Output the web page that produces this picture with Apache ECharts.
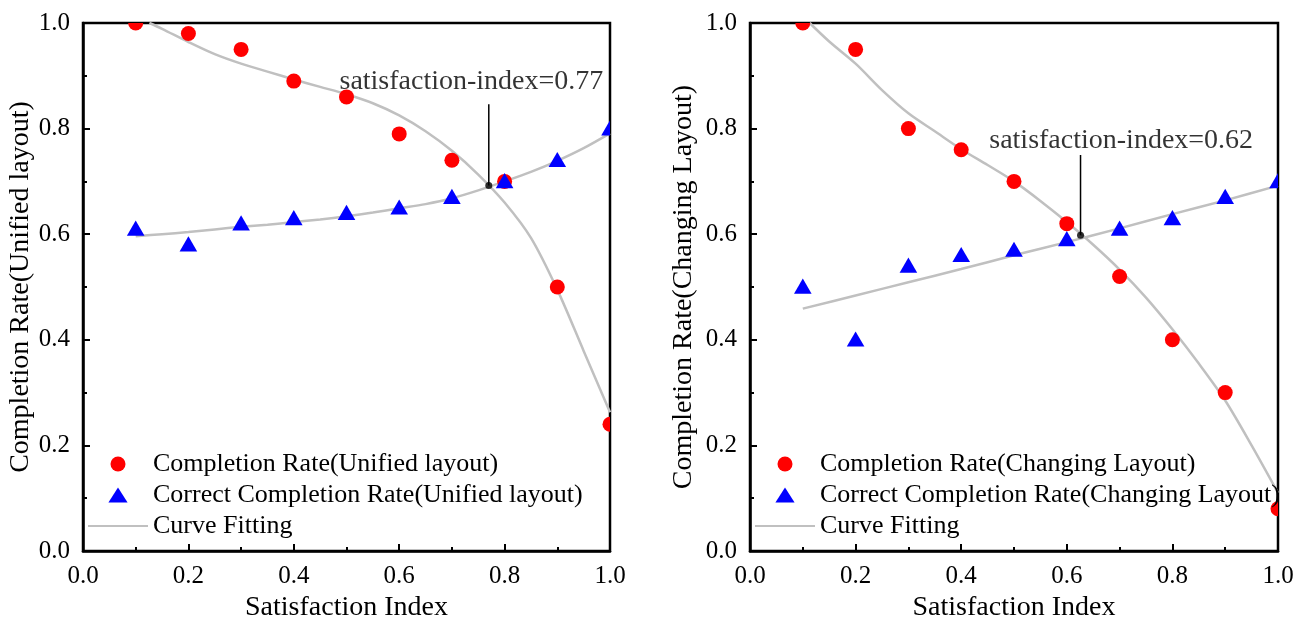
<!DOCTYPE html>
<html>
<head>
<meta charset="utf-8">
<script src="https://cdn.jsdelivr.net/npm/echarts@6/dist/echarts.min.js"></script>
<style>
html,body{margin:0;padding:0;background:#fff;}
#c{width:1307px;height:621px;}
</style>
</head>
<body>
<div id="c"></div>
<script>
// ---------- data ----------
const xValues = [0.1, 0.2, 0.3, 0.4, 0.5, 0.6, 0.7, 0.8, 0.9, 1.0];
// Left panel: unified layout
const unifiedRate = [1.0, 0.98, 0.95, 0.89, 0.86, 0.79, 0.74, 0.70, 0.50, 0.24];
const unifiedCorrect = [0.61, 0.58, 0.62, 0.63, 0.64, 0.65, 0.67, 0.70, 0.74, 0.80];
const unifiedRateFitX = [0.126, 0.15, 0.2, 0.25, 0.3, 0.35, 0.4, 0.45, 0.5, 0.55, 0.6, 0.65, 0.7, 0.75, 0.8, 0.85, 0.9, 0.95, 1.0];
const unifiedRateFitY = [1.0, 0.989, 0.964, 0.941, 0.923, 0.908, 0.893, 0.879, 0.865, 0.848, 0.825, 0.795, 0.758, 0.713, 0.66, 0.593, 0.495, 0.379, 0.263];
const unifiedCorrectFitX = [0.1, 0.15, 0.2, 0.25, 0.3, 0.35, 0.4, 0.45, 0.5, 0.55, 0.6, 0.65, 0.7, 0.75, 0.8, 0.85, 0.9, 0.95, 1.0];
const unifiedCorrectFitY = [0.596, 0.600, 0.604, 0.609, 0.614, 0.618, 0.623, 0.628, 0.634, 0.641, 0.649, 0.657, 0.668, 0.683, 0.70, 0.718, 0.739, 0.763, 0.791];
const unifiedCross = [0.77, 0.692];
const unifiedPointerTop = 0.846;
const unifiedLabelPos = [0.737, 0.888];
const unifiedLabel = 'satisfaction-index=0.77';
// Right panel: changing layout
const changingRate = [1.0, 0.95, 0.80, 0.76, 0.70, 0.62, 0.52, 0.40, 0.30, 0.08];
const changingCorrect = [0.50, 0.40, 0.54, 0.56, 0.57, 0.59, 0.61, 0.63, 0.67, 0.70];
const changingRateFitX = [0.113, 0.15, 0.2, 0.25, 0.3, 0.35, 0.4, 0.45, 0.5, 0.55, 0.6, 0.65, 0.7, 0.75, 0.8, 0.85, 0.9, 0.95, 1.0];
const changingRateFitY = [1.0, 0.965, 0.923, 0.873, 0.829, 0.795, 0.761, 0.731, 0.70, 0.663, 0.623, 0.58, 0.533, 0.48, 0.42, 0.355, 0.285, 0.20, 0.11];
const changingCorrectFitX = [0.1, 0.2, 0.3, 0.4, 0.5, 0.6, 0.7, 0.8, 0.9, 1.0];
const changingCorrectFitY = [0.459, 0.484, 0.509, 0.534, 0.56, 0.585, 0.611, 0.638, 0.664, 0.692];
const changingCross = [0.626, 0.598];
const changingPointerTop = 0.75;
const changingLabelPos = [0.703, 0.777];
const changingLabel = 'satisfaction-index=0.62';

const xAxisName = 'Satisfaction Index';
const yNames = ['Completion Rate(Unified layout)', 'Completion Rate(Changing Layout)'];
const names = {
  uRate: 'Completion Rate(Unified layout)',
  uCorr: 'Correct Completion Rate(Unified layout)',
  cRate: 'Completion Rate(Changing Layout)',
  cCorr: 'Correct Completion Rate(Changing Layout)',
  fit: 'Curve Fitting'
};

// ---------- helpers ----------
const zip = (xs, ys) => xs.map((x, i) => [x, ys[i]]);
const FONT = '"Liberation Serif", "Times New Roman", serif';
const fmt = v => v.toFixed(1);
const TRI_ICON = 'path://M0,-10L11.5,8L-11.5,8Z';

function xAxis(idx) {
  return {
    gridIndex: idx, type: 'value', min: 0, max: 1, interval: 0.2,
    name: xAxisName, nameLocation: 'middle', nameGap: 41,
    nameTextStyle: { fontFamily: FONT, fontSize: 28, color: '#000' },
    axisLine: { show: true, onZero: false, lineStyle: { color: '#000', width: 2.5 } },
    axisTick: { show: true, inside: true, length: 7, lineStyle: { color: '#000', width: 2 } },
    minorTick: { show: true, splitNumber: 2, length: 4, lineStyle: { color: '#000', width: 2 } },
    axisLabel: { fontFamily: FONT, fontSize: 25, color: '#000', margin: 13, formatter: fmt },
    splitLine: { show: false }
  };
}
function yAxis(idx, gap) {
  return {
    gridIndex: idx, type: 'value', min: 0, max: 1, interval: 0.2,
    name: yNames[idx], nameLocation: 'middle', nameGap: gap,
    nameTextStyle: { fontFamily: FONT, fontSize: 28, color: '#000' },
    axisLine: { show: true, onZero: false, lineStyle: { color: '#000', width: 2.5 } },
    axisTick: { show: true, inside: true, length: 7, lineStyle: { color: '#000', width: 2 } },
    minorTick: { show: true, splitNumber: 2, length: 4, lineStyle: { color: '#000', width: 2 } },
    axisLabel: { fontFamily: FONT, fontSize: 25, color: '#000', margin: 13, formatter: fmt },
    splitLine: { show: false }
  };
}
// markers drawn as a custom series so that they are clipped at the plot frame
function markers(name, idx, ys, shape, size, color) {
  return {
    name, type: 'custom', xAxisIndex: idx, yAxisIndex: idx,
    data: zip(xValues, ys), clip: true, z: 3,
    itemStyle: { color },
    encode: { x: 0, y: 1 },
    renderItem: function (params, api) {
      const p = api.coord([api.value(0), api.value(1)]);
      const r = size / 2;
      if (shape === 'circle') {
        return { type: 'circle', shape: { cx: p[0], cy: p[1], r }, style: { fill: color } };
      }
      return {
        type: 'polygon',
        shape: { points: [[p[0], p[1] - r * 1.05], [p[0] + r * 1.1, p[1] + r * 0.85], [p[0] - r * 1.1, p[1] + r * 0.85]] },
        style: { fill: color }
      };
    }
  };
}
function fit(idx, xs, ys) {
  return {
    name: names.fit, type: 'line', xAxisIndex: idx, yAxisIndex: idx,
    data: zip(xs, ys), smooth: 0.3, symbol: 'none', clip: true,
    lineStyle: { color: '#c0c0c0', width: 2.5 }, itemStyle: { color: '#c0c0c0' }, z: 2
  };
}
function annot(idx, cross, top, labelPos, text) {
  return [
    {
      name: 'pointer' + idx, type: 'line', xAxisIndex: idx, yAxisIndex: idx,
      data: [cross, [cross[0], top]], symbol: 'none',
      lineStyle: { color: '#000', width: 1.5 }, z: 4
    },
    {
      name: 'cross' + idx, type: 'scatter', xAxisIndex: idx, yAxisIndex: idx,
      data: [cross], symbol: 'circle', symbolSize: 7, itemStyle: { color: '#000' }, z: 5
    },
    {
      name: 'label' + idx, type: 'scatter', xAxisIndex: idx, yAxisIndex: idx,
      data: [labelPos], symbolSize: 0, silent: true,
      label: { show: true, position: 'inside', formatter: text,
        fontFamily: FONT, fontSize: 28, color: '#000', textBorderWidth: 0 }, z: 5
    }
  ];
}
function legend(left, rateName, corrName) {
  return {
    left, top: 446, orient: 'vertical', itemWidth: 60, itemHeight: 15, itemGap: 5,
    symbolKeepAspect: true,
    data: [
      { name: rateName, icon: 'circle' },
      { name: corrName, icon: TRI_ICON },
      { name: names.fit, itemStyle: { color: 'rgba(0,0,0,0)', borderWidth: 0, opacity: 0 } }
    ],
    textStyle: { fontFamily: FONT, fontSize: 26, color: '#000' },
    selectedMode: false
  };
}

const chart = echarts.init(document.getElementById('c'), null, { renderer: 'canvas' });
chart.setOption({
  animation: false,
  backgroundColor: '#fff',
  grid: [
    { left: 83, right: 697, top: 23, bottom: 70, show: true, borderColor: '#000', borderWidth: 2.5,
      containLabel: false, outerBoundsMode: 'none' },
    { left: 750, right: 29, top: 23, bottom: 70, show: true, borderColor: '#000', borderWidth: 2.5,
      containLabel: false, outerBoundsMode: 'none' }
  ],
  xAxis: [xAxis(0), xAxis(1)],
  yAxis: [yAxis(0, 41), yAxis(1, 52)],
  legend: [
    legend(82, names.uRate, names.uCorr),
    legend(749, names.cRate, names.cCorr)
  ],
  series: [
    fit(0, unifiedRateFitX, unifiedRateFitY),
    fit(0, unifiedCorrectFitX, unifiedCorrectFitY),
    markers(names.uRate, 0, unifiedRate, 'circle', 15, '#ff0000'),
    markers(names.uCorr, 0, unifiedCorrect, 'triangle', 16, '#0000ff'),
    ...annot(0, unifiedCross, unifiedPointerTop, unifiedLabelPos, unifiedLabel),
    fit(1, changingRateFitX, changingRateFitY),
    fit(1, changingCorrectFitX, changingCorrectFitY),
    markers(names.cRate, 1, changingRate, 'circle', 15, '#ff0000'),
    markers(names.cCorr, 1, changingCorrect, 'triangle', 16, '#0000ff'),
    ...annot(1, changingCross, changingPointerTop, changingLabelPos, changingLabel)
  ]
});
</script>
</body>
</html>
